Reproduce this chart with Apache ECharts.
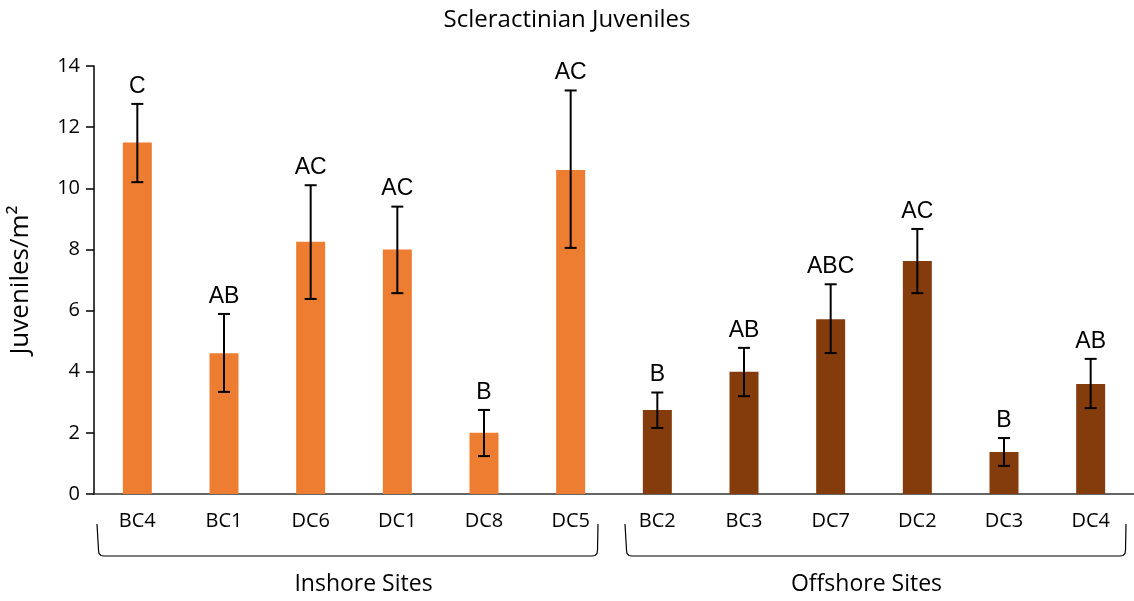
<!DOCTYPE html>
<html>
<head>
<meta charset="utf-8">
<script src="https://cdn.jsdelivr.net/npm/echarts@6/dist/echarts.min.js"></script>
<style>
  html, body { margin: 0; padding: 0; background: #fff; }
  #chart { width: 1134px; height: 601px; }
</style>
</head>
<body>
<div id="chart"></div>
<script>
// sites, in plotted order
const sites = ["BC4", "BC1", "DC6", "DC1", "DC8", "DC5", "BC2", "BC3", "DC7", "DC2", "DC3", "DC4"];
// mean juveniles per m2
const means = [11.5, 4.6, 8.25, 8.0, 2.0, 10.6, 2.75, 4.0, 5.72, 7.62, 1.37, 3.6];
// error bar ends
const errLow = [10.2, 3.34, 6.38, 6.57, 1.24, 8.05, 2.16, 3.2, 4.61, 6.57, 0.92, 2.81];
const errHigh = [12.76, 5.89, 10.1, 9.4, 2.75, 13.2, 3.32, 4.78, 6.86, 8.67, 1.83, 4.42];
// significance letters
const letters = ["C", "AB", "AC", "AC", "B", "AC", "B", "AB", "ABC", "AC", "B", "AB"];
// groups: [label, first index, last index]
const groups = [["Inshore Sites", 0, 5], ["Offshore Sites", 6, 11]];
const yTicks = [0, 2, 4, 6, 8, 10, 12, 14];

const inshoreColor = "#ED7D31";
const offshoreColor = "#843C0C";
const txtFont = "'Open Sans', sans-serif";
// bracket inset from the group's outer category edges [left, right]
const bracketInset = [[3, 16], [11, 8]];
// group label shift from bracket centre
const labelShift = [16, -9];

var chart = echarts.init(document.getElementById("chart"));

const barData = means.map(function (v, i) {
  return {
    value: v,
    itemStyle: { color: i <= groups[0][2] ? inshoreColor : offshoreColor }
  };
});
const errData = sites.map(function (s, i) {
  return [i, errLow[i], errHigh[i]];
});

let option = {
  animation: false,
  title: {
    text: "Scleractinian Juveniles",
    left: "center",
    top: 3,
    textStyle: { fontFamily: txtFont, fontSize: 24, fontWeight: "normal", color: "#000" }
  },
  grid: { left: 93, right: 0, top: 66, bottom: 107 },
  xAxis: {
    type: "category",
    data: sites,
    axisLine: { lineStyle: { color: "#333", width: 1.5 } },
    axisTick: { show: false },
    axisLabel: { fontFamily: txtFont, fontSize: 20, color: "#000", margin: 17 }
  },
  yAxis: {
    type: "value",
    min: yTicks[0],
    max: yTicks[yTicks.length - 1],
    interval: 2,
    name: "Juveniles/m²",
    nameLocation: "middle",
    nameGap: 60,
    nameTextStyle: { fontFamily: txtFont, fontSize: 26, color: "#000" },
    axisLine: { show: true, lineStyle: { color: "#000", width: 1.5 } },
    axisTick: { show: true, length: 8, inside: false, lineStyle: { color: "#000", width: 1.5 } },
    axisLabel: { fontFamily: txtFont, fontSize: 20, color: "#000", margin: 14 },
    splitLine: { show: false }
  },
  series: [
    {
      type: "bar",
      data: barData,
      barWidth: 29
    },
    {
      type: "custom",
      data: errData,
      z: 10,
      renderItem: function (params, api) {
        var x = api.value(0);
        var lo = api.coord([x, api.value(1)]);
        var hi = api.coord([x, api.value(2)]);
        var cap = 6;
        var st = { stroke: "#000", lineWidth: 2 };
        return {
          type: "group",
          children: [
            { type: "line", shape: { x1: lo[0], y1: lo[1], x2: hi[0], y2: hi[1] }, style: st },
            { type: "line", shape: { x1: lo[0] - cap, y1: lo[1], x2: lo[0] + cap, y2: lo[1] }, style: st },
            { type: "line", shape: { x1: hi[0] - cap, y1: hi[1], x2: hi[0] + cap, y2: hi[1] }, style: st },
            {
              type: "text",
              x: hi[0],
              y: hi[1] - 6,
              style: {
                text: letters[params.dataIndex],
                textAlign: "center",
                textVerticalAlign: "bottom",
                font: "23px 'Liberation Sans', Arial, sans-serif",
                fill: "#000"
              }
            }
          ]
        };
      }
    }
  ]
};
chart.setOption(option);

// group brackets under the category labels
function drawGroups() {
  var half = chart.convertToPixel({ xAxisIndex: 0 }, 1) - chart.convertToPixel({ xAxisIndex: 0 }, 0);
  half = half / 2;
  var top = 524, bot = 556;
  var st = { stroke: "#000", lineWidth: 1.2, fill: null };
  var els = [];
  groups.forEach(function (g, k) {
    var x0 = chart.convertToPixel({ xAxisIndex: 0 }, g[1]) - half + bracketInset[k][0];
    var x1 = chart.convertToPixel({ xAxisIndex: 0 }, g[2]) + half - bracketInset[k][1];
    els.push({
      type: "polyline",
      shape: { points: [[x0, top], [x0 + 1.5, bot - 6], [x0 + 2, bot - 2.5], [x0 + 4, bot - 0.5], [x0 + 7, bot]] },
      style: st
    });
    els.push({ type: "line", shape: { x1: x0 + 7, y1: bot, x2: x1 - 6, y2: bot }, style: st });
    els.push({
      type: "polyline",
      shape: { points: [[x1 - 6, bot], [x1 - 3, bot - 0.5], [x1 - 1, bot - 2.5], [x1 - 0.5, bot - 6], [x1, top]] },
      style: st
    });
    els.push({
      type: "text",
      x: (x0 + x1) / 2 + labelShift[k],
      y: 584,
      style: {
        text: g[0],
        textAlign: "center",
        textVerticalAlign: "middle",
        font: "23px " + txtFont,
        fill: "#000"
      }
    });
  });
  chart.setOption({ graphic: els });
}
drawGroups();
</script>
</body>
</html>
